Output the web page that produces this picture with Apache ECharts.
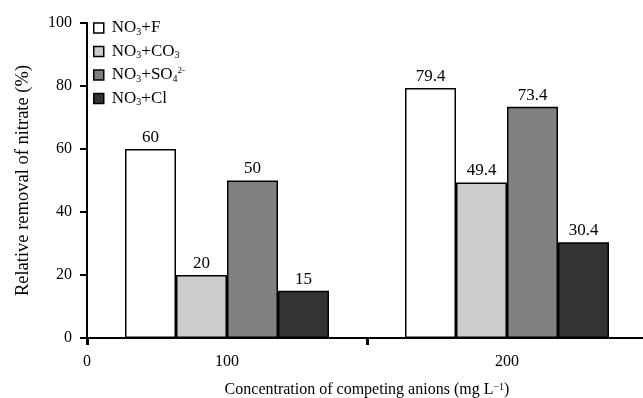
<!DOCTYPE html>
<html>
<head>
<meta charset="utf-8">
<script src="https://cdn.jsdelivr.net/npm/echarts@6/dist/echarts.min.js"></script>
<style>html,body{margin:0;padding:0;background:#fff}#c{width:643px;height:398px}</style>
</head>
<body>
<div id="c"></div>
<script>
var categories = ['100', '200'];
var seriesNames = ['NO3+F', 'NO3+CO3', 'NO3+SO4', 'NO3+Cl'];
var legendLabels = ['NO{sub|3}+F', 'NO{sub|3}+CO{sub|3}', 'NO{sub|3}+SO{sub|4}{sup|2-}', 'NO{sub|3}+Cl'];
var valuesF = [60, 79.4];
var valuesCO3 = [20, 49.4];
var valuesSO4 = [50, 73.4];
var valuesCl = [15, 30.4];
var yTicks = [0, 20, 40, 60, 80, 100];
var colors = ['#ffffff', '#cccccc', '#808080', '#333333'];

var FONT = '"Liberation Serif", "DejaVu Serif", serif';
var chart = echarts.init(document.getElementById('c'));
var allValues = [valuesF, valuesCO3, valuesSO4, valuesCl];

var series = seriesNames.map(function (n, i) {
  return {
    name: n,
    type: 'bar',
    data: allValues[i],
    barWidth: 51,
    barGap: '0%',
    itemStyle: { color: colors[i], borderColor: '#000', borderWidth: 1.5 },
    label: { show: true, position: 'top', distance: 3, color: '#000', fontFamily: FONT, fontSize: 17 },
    emphasis: { disabled: true }
  };
});

chart.setOption({
  animation: false,
  backgroundColor: '#fff',
  textStyle: { fontFamily: FONT },
  grid: { left: 87, right: -4, top: 23, bottom: 60, outerBoundsMode: 'none', containLabel: false },
  legend: {
    orient: 'vertical',
    left: 93,
    top: 19,
    padding: 0,
    icon: 'rect',
    itemWidth: 10,
    itemHeight: 10,
    itemGap: 5.5,
    data: seriesNames,
    itemStyle: { borderColor: '#000', borderWidth: 1.5 },
    formatter: function (name) { return legendLabels[seriesNames.indexOf(name)]; },
    textStyle: {
      fontFamily: FONT, fontSize: 17, color: '#000', lineHeight: 18, padding: [0, 0, 0, 3],
      rich: {
        sub: { fontFamily: FONT, fontSize: 10, lineHeight: 8, verticalAlign: 'bottom', color: '#000' },
        sup: { fontFamily: FONT, fontSize: 9, lineHeight: 9, verticalAlign: 'top', color: '#000' }
      }
    }
  },
  xAxis: [{
    type: 'category',
    data: categories,
    position: 'bottom',
    axisLine: { show: true, lineStyle: { color: '#000', width: 2 } },
    axisTick: { show: true, length: 7, lineStyle: { color: '#000', width: 3 } },
    axisLabel: { color: '#000', fontFamily: FONT, fontSize: 16, margin: 16 },
    name: 'Concentration of competing anions (mg L{sup|\u22121})',
    nameLocation: 'middle',
    nameGap: 44,
    nameTextStyle: {
      color: '#000', fontFamily: FONT, fontSize: 16,
      rich: { sup: { fontFamily: FONT, fontSize: 10, verticalAlign: 'top', lineHeight: 10, color: '#000' } }
    }
  }, {
    type: 'value',
    min: 0, max: 2, interval: 1,
    position: 'bottom',
    axisLine: { show: false },
    axisTick: { show: false },
    splitLine: { show: false },
    axisLabel: { color: '#000', fontFamily: FONT, fontSize: 16, margin: 16,
      formatter: function (v) { return v === 0 ? String(yTicks[0]) : ''; } }
  }],
  yAxis: {
    type: 'value',
    min: yTicks[0], max: yTicks[yTicks.length - 1], interval: 20,
    axisLine: { show: true, lineStyle: { color: '#000', width: 2 } },
    axisTick: { show: true, length: 7, lineStyle: { color: '#000', width: 2 } },
    splitLine: { show: false },
    axisLabel: { color: '#000', fontFamily: FONT, fontSize: 16, margin: 15 },
    name: 'Relative removal of nitrate (%)',
    nameLocation: 'middle',
    nameGap: 54,
    nameTextStyle: { color: '#000', fontFamily: FONT, fontSize: 18.5 }
  },
  series: series
});
</script>
</body>
</html>
